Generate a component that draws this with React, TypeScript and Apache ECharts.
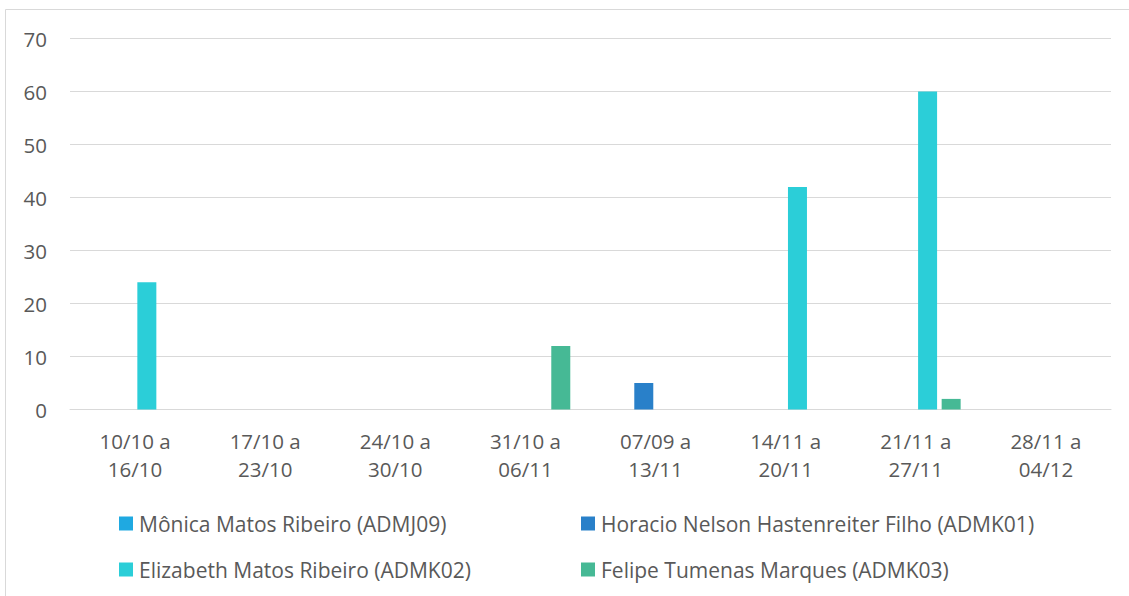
import React, { useEffect, useRef } from "react";
import * as echarts from "echarts";

const categories = [
  "10/10 a\n16/10",
  "17/10 a\n23/10",
  "24/10 a\n30/10",
  "31/10 a\n06/11",
  "07/09 a\n13/11",
  "14/11 a\n20/11",
  "21/11 a\n27/11",
  "28/11 a\n04/12",
];
const seriesNames = [
  "Mônica Matos Ribeiro (ADMJ09)",
  "Horacio Nelson Hastenreiter Filho (ADMK01)",
  "Elizabeth Matos Ribeiro (ADMK02)",
  "Felipe Tumenas Marques (ADMK03)",
];
const monica = [0, 0, 0, 0, 0, 0, 0, 0];
const horacio = [0, 0, 0, 0, 5, 0, 0, 0];
const elizabeth = [24, 0, 0, 0, 0, 42, 60, 0];
const felipe = [0, 0, 0, 12, 0, 0, 2, 0];
const colors = ["#1FA9E1", "#2980C9", "#2BCED8", "#46B995"];

const FONT = "Open Sans";
const TEXT = "#595959";
const FS = 20.5;

export default function App() {
  const ref = useRef<HTMLDivElement>(null);
  useEffect(() => {
    if (!ref.current) return;
    const chart = echarts.init(ref.current, null, { renderer: "svg" });
    const values = [monica, horacio, elizabeth, felipe];
    const legendPos = [
      { left: 119, top: 513 },
      { left: 581, top: 513 },
      { left: 119, top: 559 },
      { left: 581, top: 559 },
    ];
    chart.setOption({
      animation: false,
      color: colors,
      textStyle: { fontFamily: FONT },
      graphic: [
        {
          type: "rect",
          shape: { x: 5.5, y: 9.5, width: 1300, height: 800 },
          style: { fill: "none", stroke: "#D9D9D9", lineWidth: 1 },
          silent: true,
        },
      ],
      grid: { left: 70, right: 18, top: 38.5, bottom: 186.5 },
      legend: seriesNames.map((n, i) => ({
        data: [n],
        left: legendPos[i].left,
        top: legendPos[i].top,
        padding: 0,
        itemWidth: 14,
        itemHeight: 14,
        itemGap: 0,
        icon: "rect",
        selectedMode: false,
        textStyle: { fontFamily: FONT, fontSize: 21, color: TEXT, padding: [0, 0, 0, 1] },
      })),
      xAxis: {
        type: "category",
        data: categories,
        axisLine: { lineStyle: { color: "#D9D9D9", width: 1 } },
        axisTick: { show: false },
        axisLabel: {
          fontFamily: FONT,
          fontSize: FS,
          color: TEXT,
          lineHeight: 28,
          margin: 17,
          interval: 0,
        },
      },
      yAxis: {
        type: "value",
        min: 0,
        max: 70,
        interval: 10,
        axisLine: { show: false },
        axisTick: { show: false },
        splitLine: { lineStyle: { color: "#D9D9D9", width: 1 } },
        axisLabel: { fontFamily: FONT, fontSize: FS, color: TEXT, margin: 23 },
      },
      series: seriesNames.map((n, i) => ({
        name: n,
        type: "bar",
        data: values[i],
        barWidth: 19,
        barGap: "24%",
        itemStyle: { color: colors[i] },
      })),
    });
    return () => chart.dispose();
  }, []);
  return (
    <div
      ref={ref}
      style={{ position: "fixed", left: 0, top: 0, width: 1129, height: 596, background: "#fff" }}
    />
  );
}
